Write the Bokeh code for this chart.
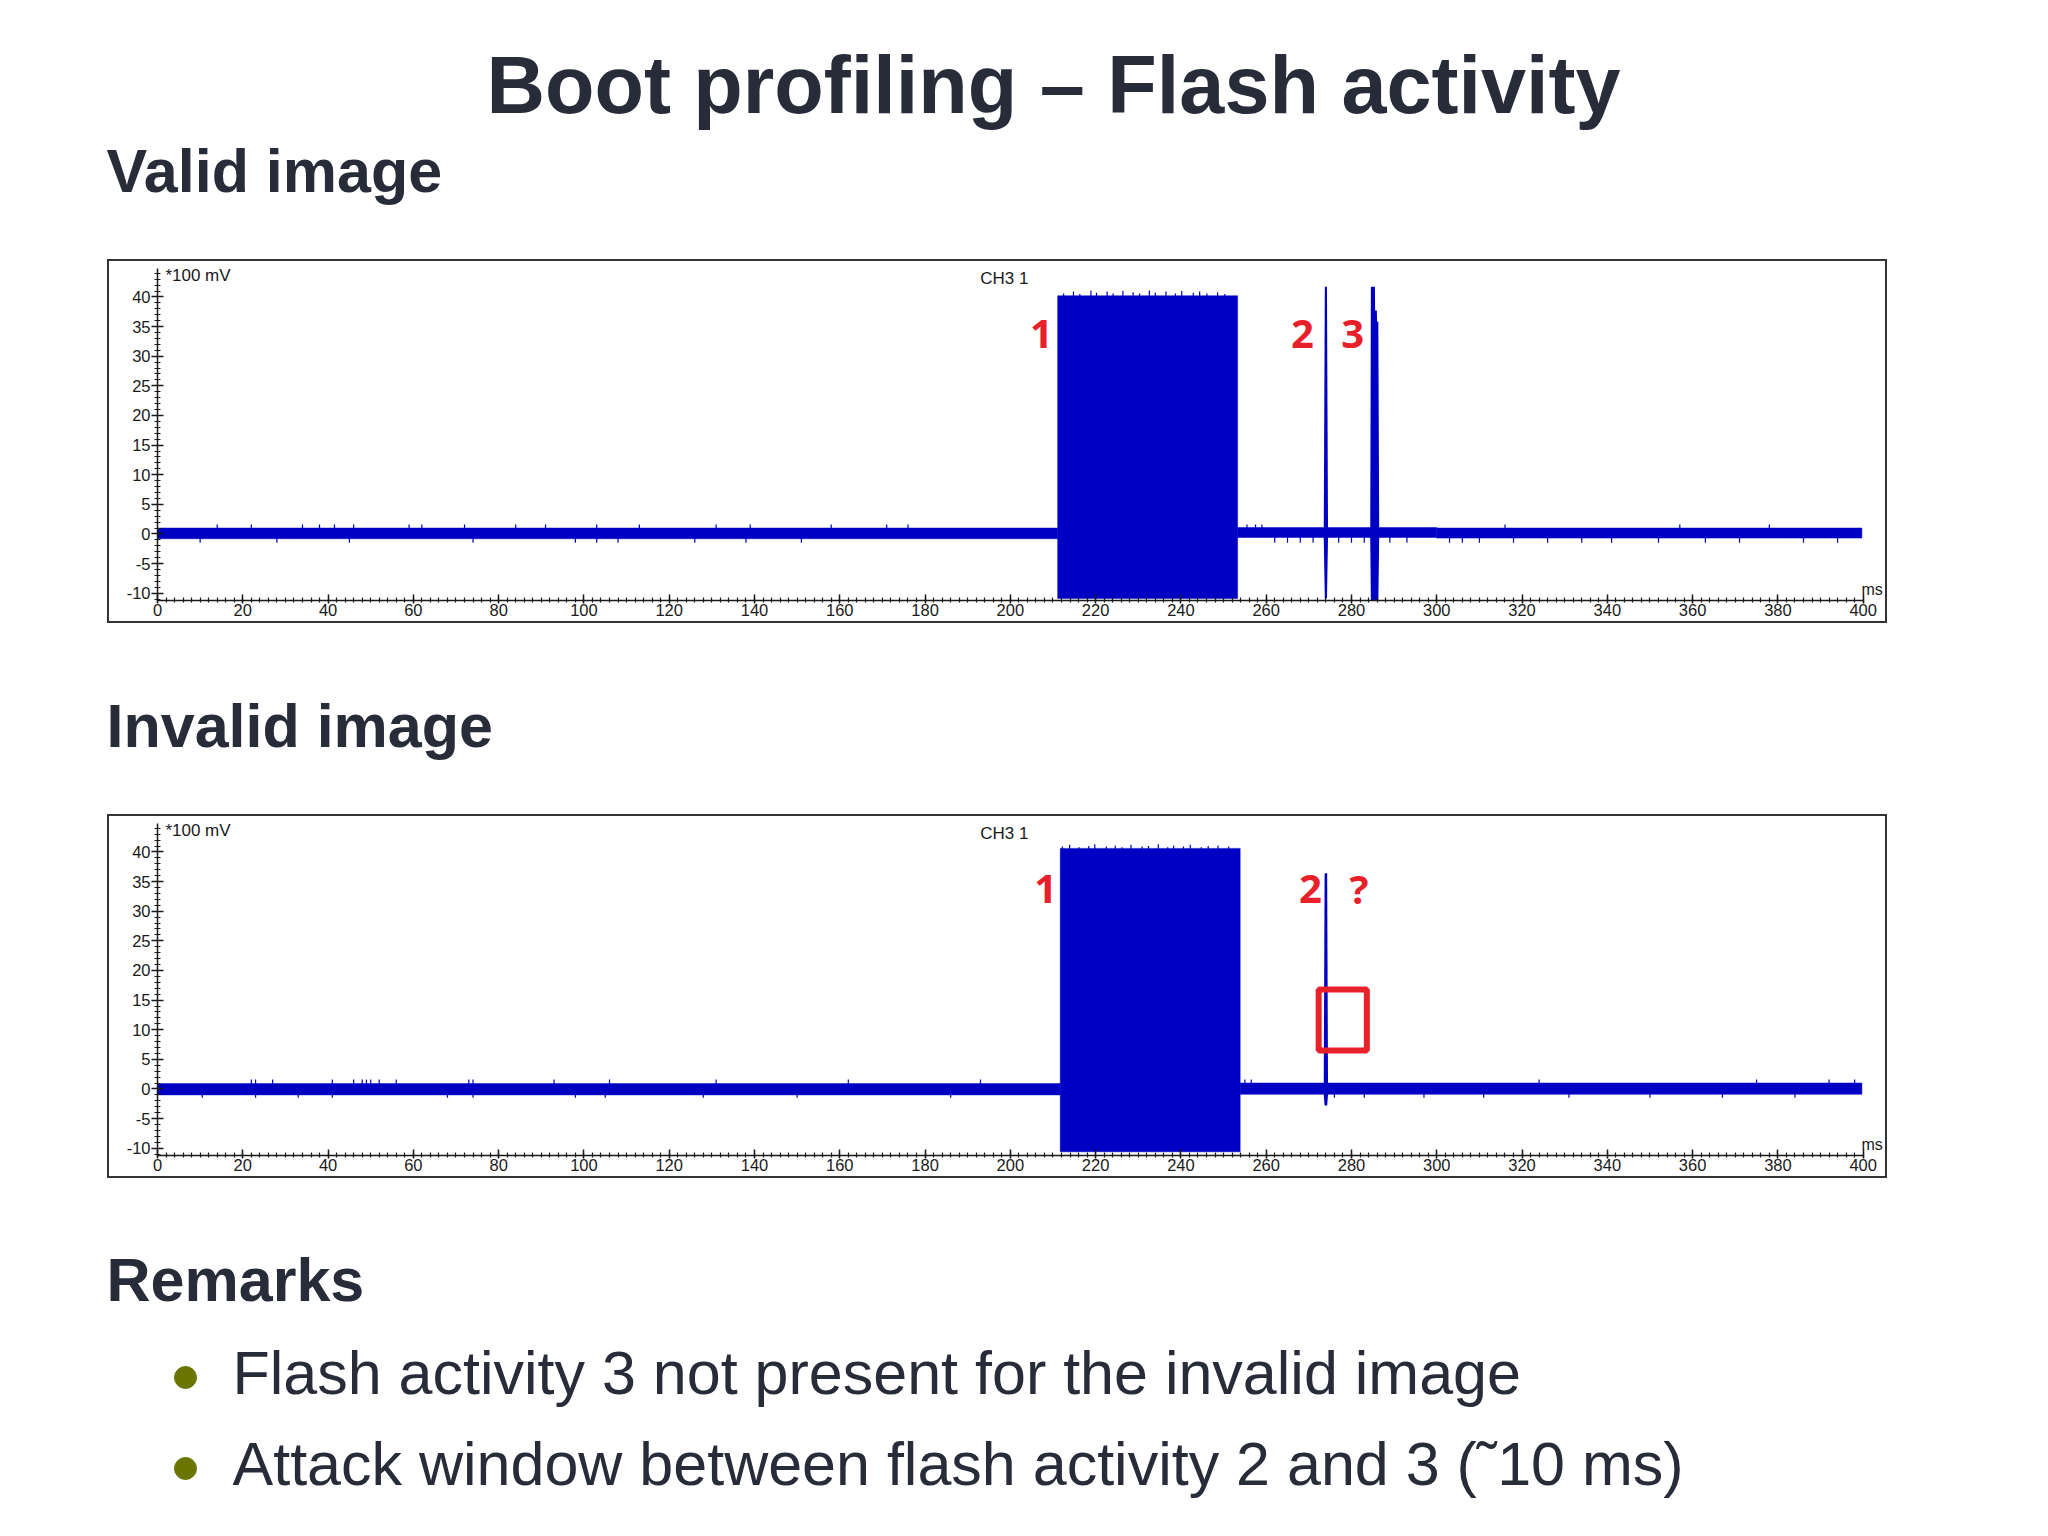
from bokeh.plotting import figure
from bokeh.models import Range1d, FixedTicker, Label, Spacer
from bokeh.layouts import column, row
from bokeh.embed import file_html
from bokeh.resources import INLINE
from bokeh.core.properties import value

# ---------------- data ----------------
title_text = "Boot profiling – Flash activity"
section_valid = "Valid image"
section_invalid = "Invalid image"
section_remarks = "Remarks"
remarks = ["Flash activity 3 not present for the invalid image",
           "Attack window between flash activity 2 and 3 (˜10 ms)"]

x_ticks = list(range(0, 401, 20))
x_minor = [v for v in range(0, 401, 2)]
y_ticks = list(range(-10, 41, 5))
y_minor = list(range(-11, 45))
y_unit = "*100 mV"
channel = "CH3 1"
x_unit = "ms"

# valid image: baseline noise band (ms, *100 mV)
valid_band_left = [0.0, 253.3, 300.0]
valid_band_right = [211.1, 300.0, 399.7]
valid_band_low = [-0.8, -0.6, -0.7]
valid_band_high = [1.0, 1.1, 1.0]
valid_tick_up_x = [14, 22, 34, 38, 41.5, 46, 59, 62, 72, 84, 91, 103, 113, 131, 139,
                   158, 171, 176, 255.5, 257.5, 259, 316, 357, 378]
valid_tick_down_x = [10, 28, 45, 74, 98, 103, 108, 126, 138, 151, 262, 265, 268, 271,
                     277, 280, 283, 289, 293, 303, 306, 310, 318, 326, 334, 341, 352,
                     363, 371, 386, 394]
# flash activity 1 (burst)
valid_burst_left = [211.1]
valid_burst_right = [253.3]
valid_burst_low = [-10.9]
valid_burst_high = [40.2]
valid_burst_tip_x = [212.5, 214.8, 216.3, 218.9, 220.2, 222.7, 224.1, 226.4, 228.8, 230.3,
                     232.6, 234.0, 236.5, 238.7, 240.2, 242.9, 244.4, 246.1, 248.6, 250.3]
valid_burst_tip_y = [40.6, 40.9, 40.5, 41.1, 40.7, 40.9, 40.6, 41.0, 40.8, 40.6,
                     41.1, 40.7, 40.9, 40.6, 41.0, 40.7, 40.9, 40.6, 40.8, 40.5]
# flash activity 2
valid_s2_x = [273.5, 273.75, 274.25, 274.5]
valid_s2_high = [1.0, 41.7, 41.7, 1.0]
valid_s2_low = [-0.8, -10.9, -10.9, -0.8]
# flash activity 3
valid_s3_x = [284.4, 284.55, 285.5, 285.55, 285.95, 286.0, 286.3, 286.5]
valid_s3_high = [1.0, 41.7, 41.7, 37.7, 37.7, 35.8, 35.8, 1.0]
valid_s3_low = [-0.8, -11.6, -11.6, -11.6, -11.6, -11.6, -11.6, -0.8]

# invalid image
inv_band_left = [0.0, 253.9]
inv_band_right = [211.7, 399.7]
inv_band_low = [-1.0, -0.9]
inv_band_high = [0.9, 1.0]
inv_tick_up_x = [22, 23, 27, 41, 46, 48, 49, 50, 52, 56, 73, 74, 93, 106, 131, 162,
                 193, 255, 256.5, 324, 375, 392, 398]
inv_tick_down_x = [10.5, 23, 33, 41, 68, 74, 98, 105, 128, 150, 186, 276, 283, 297,
                   311, 331, 350, 367, 384]
inv_burst_left = [211.7]
inv_burst_right = [253.9]
inv_burst_low = [-10.6]
inv_burst_high = [40.6]
inv_burst_tip_x = [212.2, 213.9, 216.1, 218.4, 219.8, 222.5, 224.6, 226.2, 228.3, 230.9,
                   232.4, 234.7, 236.9, 238.3, 240.6, 242.2, 244.8, 246.4, 248.7, 251.2]
inv_burst_tip_y = [40.9, 41.2, 40.8, 41.0, 41.3, 40.9, 41.1, 40.8, 41.2, 40.9,
                   41.0, 41.3, 40.8, 41.1, 40.9, 41.2, 40.8, 41.0, 41.1, 40.9]
inv_s2_x = [273.5, 273.7, 274.3, 274.5]
inv_s2_high = [1.0, 36.4, 36.4, 1.0]
inv_s2_low = [-1.0, -2.8, -2.8, -1.0]

# annotations
valid_marks = ["1", "2", "3"]
valid_marks_x = [207.3, 268.5, 280.3]
invalid_marks = ["1", "2", "?"]
invalid_marks_x = [208.3, 270.4, 281.8]
window_box_x = [272.3, 283.6]
window_box_y = [6.5, 16.8]

# ---------------- styles ----------------
BLUE = "#0000c4"
RED = "#e8202a"
TEXT = "#272c38"
OLIVE = "#6b7600"
AX = "#1a1a1a"
W = 2040


def text_fig(h):
    p = figure(width=W, height=h, x_range=Range1d(0, W), y_range=Range1d(h, 0),
               output_backend="svg", toolbar_location=None, min_border=0, title=None,
               x_axis_type=None, y_axis_type=None, outline_line_color=None)
    p.grid.visible = False
    return p


def put(p, x, y, t, size, bold=False, align="left", color=TEXT):
    p.text(x=[x], y=[y], text=[t], text_font=value("Liberation Sans"),
           text_font_style="bold" if bold else "normal", text_font_size=size,
           text_color=color, text_align=align, text_baseline="alphabetic")


def scope(band_l, band_r, band_lo, band_hi, up_x, down_x, b_l, b_r, b_lo, b_hi,
          tip_x, tip_y, spikes, marks, marks_x):
    p = figure(width=1780, height=364, x_range=Range1d(0, 405.0),
               y_range=Range1d(-11.23, 44.8), title=None,
               output_backend="svg", toolbar_location=None,
               min_border_left=48, min_border_right=5, min_border_top=7, min_border_bottom=25,
               outline_line_color=None)
    p.styles = {"border": "2px solid #333333"}
    p.grid.visible = False
    # axes
    p.xaxis.ticker = FixedTicker(ticks=x_ticks, minor_ticks=x_minor)
    p.yaxis.ticker = FixedTicker(ticks=y_ticks, minor_ticks=y_minor)
    p.yaxis.major_label_overrides = {v: str(v) for v in y_ticks}
    p.xaxis.bounds = (0, 400)
    for ax in (p.xaxis, p.yaxis):
        ax.axis_line_color = AX
        ax.axis_line_width = 1.5
        ax.major_tick_line_color = AX
        ax.minor_tick_line_color = AX
        ax.major_tick_line_width = 1.5
        ax.minor_tick_line_width = 1.2
        ax.major_label_text_font = "Liberation Sans"
        ax.major_label_text_font_size = "16.5px"
        ax.major_label_text_color = AX
        ax.major_label_standoff = 1
    p.xaxis.major_label_standoff = 0
    p.yaxis.major_tick_in = 6
    p.yaxis.major_tick_out = 6
    p.yaxis.minor_tick_in = 3
    p.yaxis.minor_tick_out = 3
    p.xaxis.major_tick_in = 6
    p.xaxis.major_tick_out = 3
    p.xaxis.minor_tick_in = 3
    p.xaxis.minor_tick_out = 2

    # trace
    p.quad(left=band_l, right=band_r, bottom=band_lo, top=band_hi,
           fill_color=BLUE, line_color=BLUE, line_width=0.5)
    p.segment(x0=up_x, y0=[0.5] * len(up_x), x1=up_x, y1=[1.6] * len(up_x),
              line_color=BLUE, line_width=1.2)
    p.segment(x0=down_x, y0=[-0.3] * len(down_x), x1=down_x, y1=[-1.5] * len(down_x),
              line_color=BLUE, line_width=1.2)
    p.quad(left=b_l, right=b_r, bottom=b_lo, top=b_hi,
           fill_color=BLUE, line_color=BLUE, line_width=0.5)
    p.segment(x0=tip_x, y0=[b_hi[0] - 0.5] * len(tip_x), x1=tip_x, y1=tip_y,
              line_color=BLUE, line_width=1.2)
    for sx, slo, shi in spikes:
        p.varea(x=sx, y1=slo, y2=shi, fill_color=BLUE)

    # labels
    p.add_layout(Label(x=1.85, y=43.6, text=y_unit, text_font="Liberation Sans",
                       text_font_size="17px", text_color=AX, text_baseline="middle"))
    p.add_layout(Label(x=198.6, y=43.1, text=channel, text_font="Liberation Sans",
                       text_font_size="17px", text_color=AX, text_baseline="middle",
                       text_align="center"))
    p.add_layout(Label(x=399.6, y=-9.4, text=x_unit, text_font="Liberation Sans",
                       text_font_size="16px", text_color=AX, text_baseline="middle"))
    for m, mx in zip(marks, marks_x):
        p.add_layout(Label(x=mx, y=33.8, text=m, text_font="Open Sans",
                           text_font_style="bold", text_font_size="40px",
                           text_color=RED, text_baseline="middle", text_align="center"))
    return p


# header
header = text_fig(259)
put(header, 1053, 84, title_text, "81px", bold=True, align="center")
put(header, 106, 170, section_valid, "61px", bold=True)

p1 = scope(valid_band_left, valid_band_right, valid_band_low, valid_band_high,
           valid_tick_up_x, valid_tick_down_x,
           valid_burst_left, valid_burst_right, valid_burst_low, valid_burst_high,
           valid_burst_tip_x, valid_burst_tip_y,
           [(valid_s2_x, valid_s2_low, valid_s2_high),
            (valid_s3_x, valid_s3_low, valid_s3_high)],
           valid_marks, valid_marks_x)

mid = text_fig(191)
put(mid, 106, 102, section_invalid, "61px", bold=True)

p2 = scope(inv_band_left, inv_band_right, inv_band_low, inv_band_high,
           inv_tick_up_x, inv_tick_down_x,
           inv_burst_left, inv_burst_right, inv_burst_low, inv_burst_high,
           inv_burst_tip_x, inv_burst_tip_y,
           [(inv_s2_x, inv_s2_low, inv_s2_high)],
           invalid_marks, invalid_marks_x)
p2.quad(left=[window_box_x[0]], right=[window_box_x[1]],
        bottom=[window_box_y[0]], top=[window_box_y[1]],
        fill_alpha=0, line_color=RED, line_width=6)

rem = text_fig(350)
put(rem, 106, 101, section_remarks, "61px", bold=True)
for i, t in enumerate(remarks):
    rem.scatter(x=[185], y=[199 + 91 * i], size=22, marker="circle",
                fill_color=OLIVE, line_color=OLIVE)
    put(rem, 232, 194 + 91 * i, t, "61px")

layout = column(header,
                row(Spacer(width=107, height=364), p1),
                mid,
                row(Spacer(width=107, height=364), p2),
                rem)

open("out.html", "w").write(file_html(layout, INLINE))
